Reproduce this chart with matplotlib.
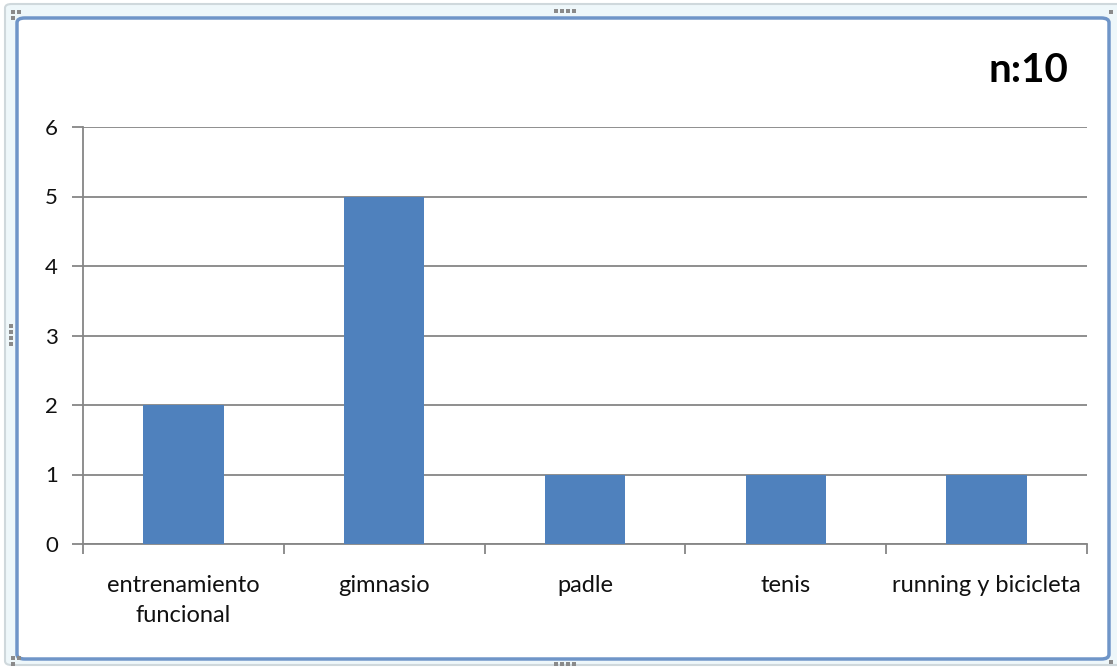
import matplotlib.pyplot as plt
from matplotlib.patches import FancyBboxPatch, Rectangle

categories = ['entrenamiento\nfuncional', 'gimnasio', 'padle', 'tenis', 'running y bicicleta']
counts = [2, 5, 1, 1, 1]
y_ticks = [0, 1, 2, 3, 4, 5, 6]
sample_label = 'n:10'

W, H = 1117, 669
plt.rcParams['font.family'] = ['Lato', 'DejaVu Sans']

fig = plt.figure(figsize=(W / 100, H / 100), dpi=100)
fig.patch.set_facecolor('white')

# chart frame: light outer border plus blue selection border
fig.patches.append(FancyBboxPatch((5 / W, 4 / H), 1120 / W, 661 / H,
                                  boxstyle='round,pad=0,rounding_size=0.006',
                                  transform=fig.transFigure, fc='#eef7fa',
                                  ec='#cfd8dc', lw=1.5, zorder=0))
fig.patches.append(FancyBboxPatch((17 / W, 10 / H), 1092 / W, 641 / H,
                                  boxstyle='round,pad=0,rounding_size=0.007',
                                  transform=fig.transFigure, fc='white',
                                  ec='#6f95c8', lw=2.5, zorder=1))

# resize handles
def handle_dots(xs, ys):
    for hx in xs:
        for hy in ys:
            fig.patches.append(Rectangle(((hx - 2) / W, (H - hy - 2) / H), 4 / W, 4 / H,
                                         transform=fig.transFigure, fc='#8a8a8a',
                                         ec='none', zorder=2))

handle_dots([556, 562, 568, 574], [11])
handle_dots([556, 562, 568, 574], [664])
handle_dots([11], [326, 332, 338, 344])
handle_dots([13, 19], [12])
handle_dots([13], [18])
handle_dots([13, 19], [658])
handle_dots([13], [664])
handle_dots([1111], [12])
handle_dots([1111], [662])

ax = fig.add_axes([83 / W, 1 - 544 / H, (1087 - 83) / W, (544 - 127) / H])
ax.set_facecolor('none')
ax.set_zorder(3)

x = list(range(len(categories)))
ax.bar(x, counts, width=0.4, color='#4f81bd', zorder=3)

ax.set_xlim(-0.5, len(categories) - 0.5)
ax.set_ylim(0, 6)
ax.set_yticks(y_ticks)
ax.yaxis.grid(True, color='#868686', lw=1.3)
ax.set_axisbelow(True)

# category boundaries carry the x tick marks
ax.set_xticks([i - 0.5 for i in range(len(categories) + 1)], minor=False)
ax.set_xticklabels([''] * (len(categories) + 1))
ax.set_xticks(x, minor=True)
ax.set_xticklabels(categories, minor=True, fontsize=17, color='#111111',
                   linespacing=1.55)
ax.tick_params(axis='x', which='major', direction='out', length=7, width=1.3,
               color='#868686')
ax.tick_params(axis='x', which='minor', length=0, pad=22)
ax.tick_params(axis='y', direction='out', length=8, width=1.3, color='#868686',
               labelsize=16, labelcolor='#111111', pad=10)

for side in ['top', 'right']:
    ax.spines[side].set_visible(False)
for side in ['left', 'bottom']:
    ax.spines[side].set_color('#868686')
    ax.spines[side].set_linewidth(1.3)

fig.text(1068 / W, 1 - 70 / H, sample_label, ha='right', va='center',
         fontsize=29, fontweight='bold', color='black')

fig.savefig('out.png', dpi=100)
